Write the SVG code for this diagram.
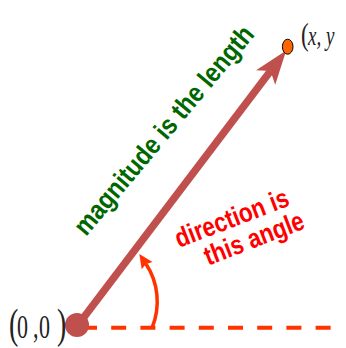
<svg xmlns="http://www.w3.org/2000/svg" width="346" height="348" viewBox="0 0 346 348">
<style>
.vec{stroke:#c0504d;stroke-width:7.5;fill:none}
.ang{stroke:#ff3300;stroke-width:3.5;fill:none}
.dash{stroke:#ff3300;stroke-width:4;stroke-dasharray:15 14.2;fill:none}
.coord{font-family:"Liberation Serif","Times New Roman",serif;fill:#222}
.mag{font-family:"Liberation Sans",Arial,sans-serif;font-weight:bold;font-size:23.5px;fill:#006600}
.dir{font-family:"Liberation Sans",Arial,sans-serif;font-weight:bold;font-size:22.5px;fill:#ff0000}
</style>
<defs>
<marker id="head" markerUnits="userSpaceOnUse" viewBox="-10 -15 40 30" markerWidth="40" markerHeight="30" refX="0" refY="0" orient="auto" overflow="visible">
<path d="M26,0 L-8,-12 L0,0 L-8,12 Z" fill="#c0504d"/>
</marker>
<marker id="head2" markerUnits="userSpaceOnUse" viewBox="-4 -8 20 16" markerWidth="20" markerHeight="16" refX="0" refY="0" orient="auto" overflow="visible">
<path d="M12,0 L-2,-6.5 L0,0 L-2,6.5 Z" fill="#ff3300"/>
</marker>
</defs>
<g id="connectors">
<line class="dash" x1="82" y1="327.7" x2="332" y2="327.7"/>
<line class="vec" x1="78" y1="325" x2="270.5" y2="71.1" marker-end="url(#head)"/>
<path class="ang" d="M152,328 C161,306 158,282 146,264" marker-end="url(#head2)"/>
</g>
<g id="origin">
<circle cx="77" cy="325" r="12" fill="#c0504d"/>
<g transform="translate(0,338) scale(1,1.5)">
<text class="coord"><tspan x="9" y="0" font-size="28">(</tspan><tspan x="17" y="0" font-size="22">0</tspan><tspan x="33" y="0" font-size="22">,</tspan><tspan x="39" y="0" font-size="22">0</tspan><tspan x="57" y="0" font-size="28">)</tspan></text>
</g>
</g>
<g id="endpoint">
<ellipse cx="287.7" cy="46.7" rx="5.3" ry="7.5" fill="#ff6600" stroke="#000" stroke-width="1"/>
<g transform="translate(0,45) scale(1,1.4)">
<text class="coord"><tspan x="301" y="0" font-size="23">(</tspan><tspan x="308" y="0" font-size="19" font-style="italic">x, y</tspan></text>
</g>
</g>
<g id="magnitude-label">
<text class="mag" transform="translate(86,237) rotate(-50) scale(1,1.15)">magnitude is the length</text>
</g>
<g id="direction-label">
<g transform="translate(179,248) rotate(-21) scale(1,1.2)">
<text class="dir" x="0" y="0">direction is</text>
<text class="dir" x="21" y="22.5">this angle</text>
</g>
</g>
</svg>
